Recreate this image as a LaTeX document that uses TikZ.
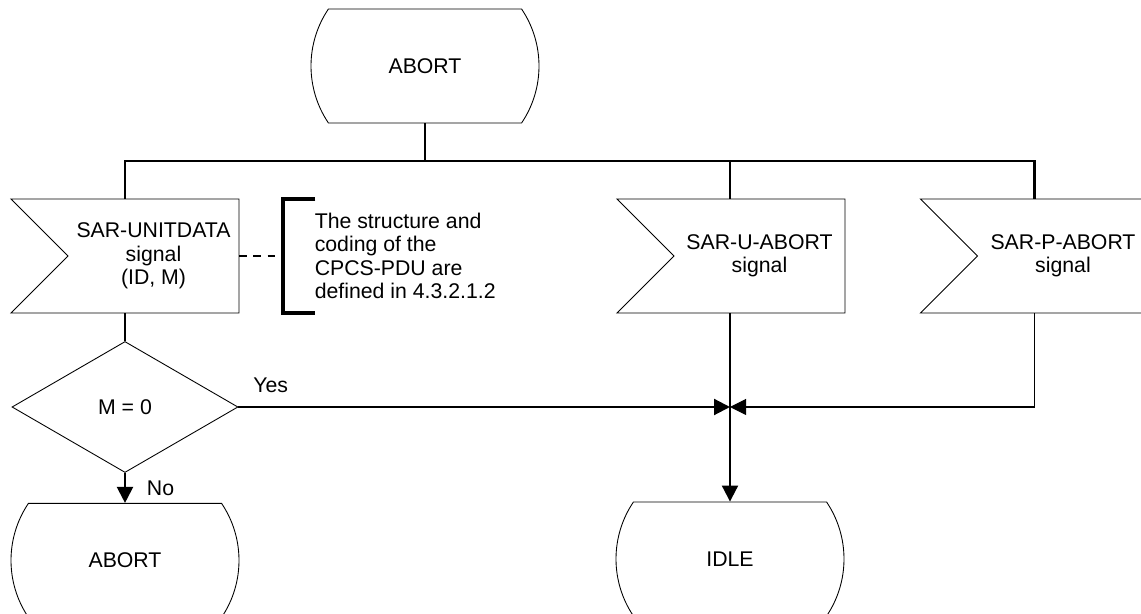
\documentclass[tikz,border=0pt]{standalone}
\usepackage{fontspec}
\setmainfont{Liberation Sans}
\usetikzlibrary{shapes.geometric, shapes.misc, shapes.symbols, arrows.meta, positioning}
\tikzset{
    base/.style = {
        draw=black, line width=0.5pt, text centered, inner sep=0pt,
        font=\fontsize{12.1}{13.3}\selectfont
    },
    % SDL symbols
    state/.style    = {base, rounded rectangle, rounded rectangle arc length=68,
                       minimum width=4.56cm, minimum height=2.28cm},
    insignal/.style = {base, signal, signal from=west, signal to=nowhere,
                       signal pointer angle=90, align=center,
                       minimum width=4.56cm, minimum height=2.28cm},
    decision/.style = {base, diamond, minimum width=4.52cm, minimum height=2.62cm},
    note/.style     = {align=left, inner xsep=0.62cm, inner ysep=0pt, minimum height=2.28cm,
                       font=\fontsize{12.1}{13.3}\selectfont},
    % Edges and annotations
    line/.style    = {line width=1.2pt},
    arrow/.style   = {line, -{Triangle[length=0.32cm, width=0.32cm]}},
    bracket/.style = {line width=2.3pt},
    dashed_line/.style = {line width=1.1pt, dashed, dash pattern=on 4.5pt off 3.5pt},
    label/.style   = {font=\fontsize{12.1}{13.3}\selectfont}
}

\begin{document}
\begin{tikzpicture}
    \useasboundingbox (0,0) rectangle (22.82,-12.28);
    \clip (0,0) rectangle (22.82,-12.28);

    \node (abort) [state] at (8.5,-1.32) {ABORT};
    \coordinate (bus) at (0,-3.22);

    % signal nodes sit on the centre of their text part, the notch reaches 0.57cm past it
    \node (unitdata) [insignal] at (3.07,-5.12) {SAR-UNITDATA\\signal\\(ID, M)};
    \node (uabort) [insignal] at (15.19,-5.12) {SAR-U-ABORT\\signal};
    \node (pabort) [insignal] at (21.26,-5.12) {SAR-P-ABORT\\signal};
    \node (comment) [note, right=0.88cm of unitdata] {The structure and\\coding of the\\CPCS-PDU are\\defined in 4.3.2.1.2};

    \node (test) [decision] at (2.5,-8.14) {M = 0};
    \node (abortb) [state, below=0.6cm of test] {ABORT};
    \node (idle) [state] at (14.6,-11.18) {IDLE};
    \coordinate (join) at (idle.north |- test.east);

    \draw [line] (abort.south) -- (abort.south |- bus);
    \draw [line] ([xshift=-0.57cm]unitdata.north) |- ([xshift=-0.57cm]pabort.north |- bus)
        -- ([xshift=-0.57cm]pabort.north);
    \draw [line] (idle.north |- uabort.north) -- (idle.north |- bus);

    \draw [dashed_line] (unitdata.east) -- (comment.west);
    \draw [bracket] ([xshift=0.64cm]comment.north west) -- (comment.north west)
        -- (comment.south west) -- ([xshift=0.64cm]comment.south west);

    \draw [line] (test.north |- unitdata.south) -- (test.north);
    \draw [arrow] (test.east) -- node[label, at start, anchor=south west, xshift=0.16cm, yshift=0.14cm] {Yes} (join);
    \draw [arrow] (test.south) -- node[label, right, xshift=0.3cm] {No} (abortb.north);
    \draw [arrow] (idle.north |- uabort.south) -- (idle.north);
    \draw [arrow, line width=0.6pt] ([xshift=-0.57cm]pabort.south) |- (join);
\end{tikzpicture}
\end{document}
